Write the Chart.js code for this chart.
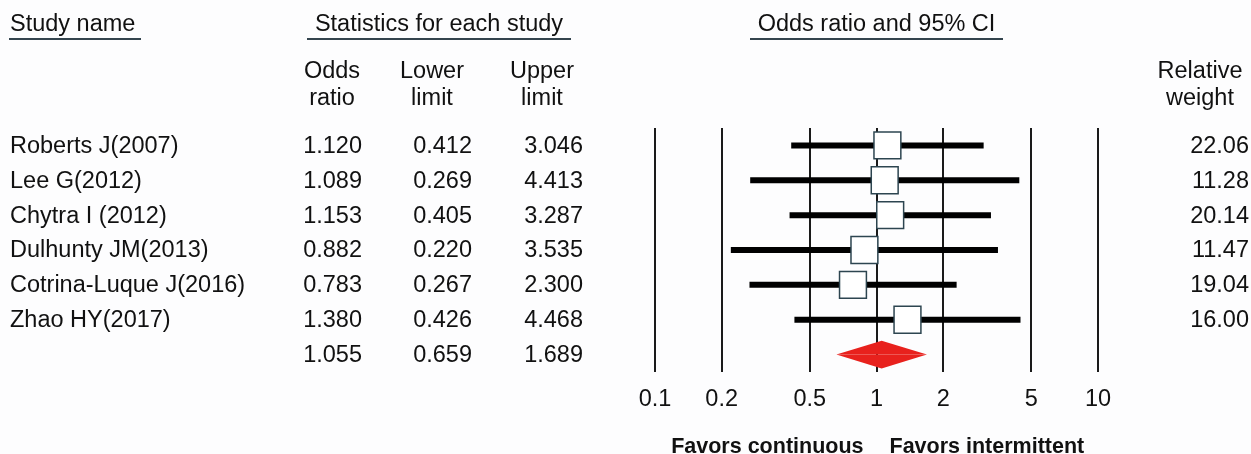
<!DOCTYPE html>
<html>
<head>
<meta charset="utf-8">
<script src="https://cdn.jsdelivr.net/npm/chart.js@4.4.1/dist/chart.umd.min.js"></script>
<style>
  html, body { margin: 0; padding: 0; background: #fdfdfe; }
  #wrap { position: relative; width: 1251px; height: 454px; }
</style>
</head>
<body>
<div id="wrap"><canvas id="forest"></canvas></div>
<script>
// Per-study values (odds ratio with 95% CI, relative weight %)
const studies = ['Roberts J(2007)', 'Lee G(2012)', 'Chytra I (2012)', 'Dulhunty JM(2013)', 'Cotrina-Luque J(2016)', 'Zhao HY(2017)'];
const oddsRatio = [1.120, 1.089, 1.153, 0.882, 0.783, 1.380];
const lowerLimit = [0.412, 0.269, 0.405, 0.220, 0.267, 0.426];
const upperLimit = [3.046, 4.413, 3.287, 3.535, 2.300, 4.468];
const relWeight = [22.06, 11.28, 20.14, 11.47, 19.04, 16.00];

// Pooled estimate: odds ratio, lower limit, upper limit
const pooledValues = [1.055, 0.659, 1.689];

// Log axis ticks
const xTicks = [0.1, 0.2, 0.5, 1, 2, 5, 10];

const FONT = '23.5px "Liberation Sans", Arial, sans-serif';
const BOLD = 'bold 21.5px "Liberation Sans", Arial, sans-serif';
const INK = '#111';
const RULE = '#34444e';

const pooledRow = studies.length;

// one thick black line per confidence interval
const ciDatasets = studies.map((name, i) => ({
  type: 'line',
  label: name,
  data: [{ x: lowerLimit[i], y: i }, { x: upperLimit[i], y: i }],
  borderColor: '#000',
  borderWidth: 6,
  borderCapStyle: 'butt',
  pointRadius: 0,
  fill: false,
  order: 3,
}));

const squareDataset = {
  type: 'scatter',
  label: 'Odds ratio',
  data: oddsRatio.map((v, i) => ({ x: v, y: i })),
  pointStyle: 'rect',
  pointRadius: 19,
  pointHoverRadius: 19,
  backgroundColor: '#fff',
  borderColor: '#2d4550',
  borderWidth: 1.5,
  order: 1,
};

// diamond = two triangles filled to the pooled row line
const diamondHalf = (dy) => ({
  type: 'line',
  label: 'Pooled',
  data: [
    { x: pooledValues[1], y: pooledRow },
    { x: pooledValues[0], y: pooledRow + dy },
    { x: pooledValues[2], y: pooledRow },
  ],
  borderWidth: 0,
  borderColor: 'rgba(0,0,0,0)',
  backgroundColor: '#e8211d',
  pointRadius: 0,
  tension: 0,
  fill: { value: pooledRow },
  order: 2,
});

const tablePlugin = {
  id: 'forestTable',
  afterDraw(chart) {
    const ctx = chart.ctx;
    const ys = chart.scales.y;
    const xs = chart.scales.x;
    const rowY = (i) => ys.getPixelForValue(i) + 1;

    ctx.save();
    ctx.fillStyle = INK;
    ctx.font = FONT;
    ctx.textBaseline = 'middle';

    // section headers + underlines
    ctx.textAlign = 'left';
    ctx.fillText('Study name', 10, 25);
    ctx.textAlign = 'center';
    ctx.fillText('Statistics for each study', 439, 25);
    ctx.fillText('Odds ratio and 95% CI', xs.getPixelForValue(1), 25);

    ctx.strokeStyle = RULE;
    ctx.lineWidth = 2;
    [[9, 141], [307, 571], [750, 1003]].forEach(([a, b]) => {
      ctx.beginPath();
      ctx.moveTo(a, 39);
      ctx.lineTo(b, 39);
      ctx.stroke();
    });

    // column headers
    const heads = [['Odds', 'ratio', 332], ['Lower', 'limit', 432], ['Upper', 'limit', 542], ['Relative', 'weight', 1200]];
    heads.forEach(([l1, l2, cx]) => {
      ctx.fillText(l1, cx, 72);
      ctx.fillText(l2, cx, 99);
    });

    // study rows
    const colRight = [362, 472, 583];
    studies.forEach((name, i) => {
      const y = rowY(i);
      ctx.textAlign = 'left';
      ctx.fillText(name, 10, y);
      ctx.textAlign = 'right';
      [oddsRatio[i], lowerLimit[i], upperLimit[i]].forEach((v, k) => {
        ctx.fillText(v.toFixed(3), colRight[k], y);
      });
      ctx.fillText(relWeight[i].toFixed(2), 1249, y);
    });

    // pooled row
    ctx.textAlign = 'right';
    pooledValues.forEach((v, k) => ctx.fillText(v.toFixed(3), colRight[k], rowY(pooledRow)));

    // favours labels
    const x1 = xs.getPixelForValue(1);
    ctx.font = BOLD;
    ctx.textBaseline = 'alphabetic';
    ctx.textAlign = 'right';
    ctx.fillText('Favors continuous', x1 - 13, 453);
    ctx.textAlign = 'left';
    ctx.fillText('Favors intermittent', x1 + 13, 453);

    ctx.restore();
  },
};

new Chart(document.getElementById('forest'), {
  type: 'line',
  data: {
    datasets: [squareDataset, diamondHalf(-0.4), diamondHalf(0.4), ...ciDatasets],
  },
  options: {
    responsive: true,
    maintainAspectRatio: false,
    animation: false,
    events: [],
    layout: {
      padding: { left: 655, right: 153, top: 128, bottom: 40 },
    },
    plugins: {
      legend: { display: false },
      tooltip: { enabled: false },
    },
    scales: {
      x: {
        type: 'logarithmic',
        position: 'bottom',
        min: 0.1,
        max: 10,
        afterBuildTicks: (scale) => {
          scale.ticks = xTicks.map((v) => ({ value: v }));
        },
        afterFit: (scale) => {
          scale.height = 42;
        },
        ticks: {
          autoSkip: false,
          maxRotation: 0,
          padding: 13,
          color: INK,
          font: { family: '"Liberation Sans", Arial, sans-serif', size: 23.5 },
          callback: (v) => String(v),
        },
        grid: {
          color: '#1a1a1a',
          lineWidth: 2,
          drawTicks: false,
        },
        border: { display: false },
      },
      y: {
        type: 'linear',
        display: false,
        reverse: true,
        min: -0.5,
        max: 6.5,
      },
    },
  },
  plugins: [tablePlugin],
});
</script>
</body>
</html>
